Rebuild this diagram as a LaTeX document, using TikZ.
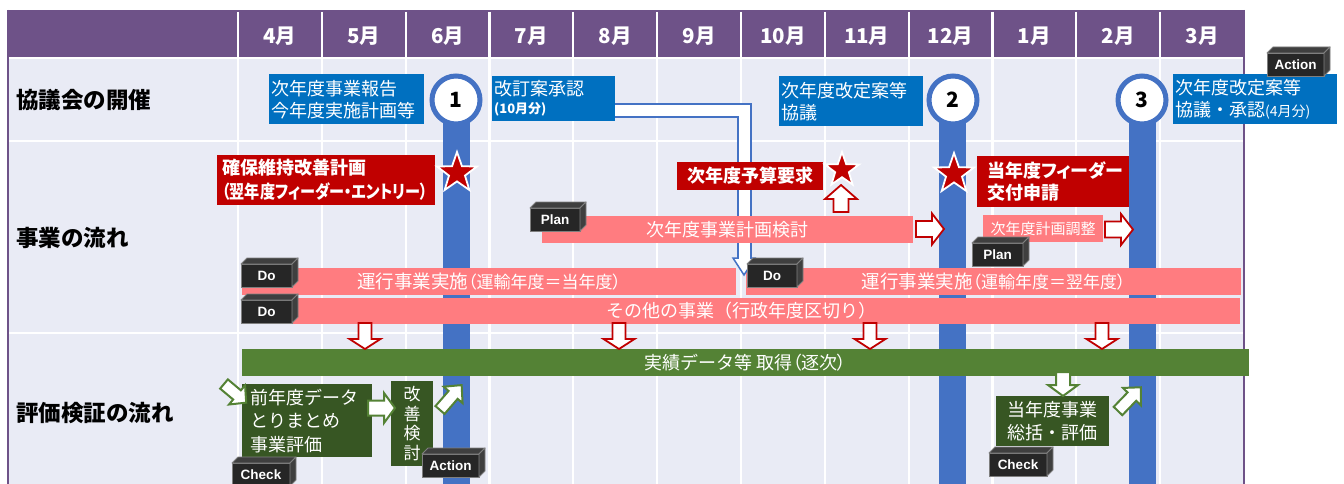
\documentclass[tikz,border=0pt]{standalone}
\usepackage{fontspec}
\setmainfont{Noto Sans CJK JP}
\newfontfamily\pk{Noto Sans CJK JP}[RawFeature=+palt]
\newfontfamily\lat{Liberation Sans}
\usetikzlibrary{shapes.geometric,calc}
\definecolor{hdr}{HTML}{6E5288}
\definecolor{gridbg}{HTML}{E9EBF5}
\definecolor{barblue}{HTML}{4472C4}
\definecolor{boxblue}{HTML}{0070C0}
\definecolor{darkred}{HTML}{C00000}
\definecolor{pinkc}{HTML}{FF7C80}
\definecolor{greenc}{HTML}{548235}
\definecolor{dgreen}{HTML}{375623}
\definecolor{cubeblk}{HTML}{262626}
\definecolor{cubesidec}{HTML}{3F3F3F}
\definecolor{cubeedge}{HTML}{7F7F7F}
\newcommand\fsz[2]{\fontsize{#1}{#2}\selectfont}
\tikzset{
 pics/barrow/.style n args={5}{code={
   \filldraw[#5] (0,{-#3/2}) -- ({#1-#4},{-#3/2}) -- ({#1-#4},{-#2/2}) -- (#1,0) -- ({#1-#4},{#2/2}) -- ({#1-#4},{#3/2}) -- (0,{#3/2}) -- cycle;
 }},
}
\newcommand\cubebox[5]{%
 \node[cubefront, minimum width=#4, anchor=north west] (#1) at (#2,#3) {#5};
 \filldraw[cubeface] (#1.north west) -- ++(6,-6) -- ([shift={(6,-6)}]#1.north east) -- (#1.north east) -- cycle;
 \filldraw[cubeface] (#1.north east) -- ++(6,-6) -- ([shift={(6,-6)}]#1.south east) -- (#1.south east) -- cycle;
}
\begin{document}
\begin{tikzpicture}[x=1pt,y=-1pt,
  gridline/.style={white, line width=2.2},
  month/.style={text=white, font=\bfseries\fsz{20.5}{22}, inner sep=0},
  rowlab/.style={anchor=west, text=black, font=\bfseries\fsz{22.5}{24}, inner sep=0},
  meet/.style={circle, fill=white, draw=barblue, line width=5, minimum size=48, inner sep=0, font=\bfseries\fsz{21}{24}},
  bluebox/.style={fill=boxblue, text=white, anchor=north west, align=left, inner ysep=0, inner xsep=2, font=\fsz{18}{22}},
  redbox/.style={fill=darkred, text=white, align=left, inner ysep=0, font=\bfseries\fsz{18}{23}},
  pinkbar/.style={fill=pinkc, text=white, inner sep=0, minimum height=27, font=\fsz{18}{20}},
  greenbar/.style={fill=greenc, text=white, inner sep=0, minimum height=27, font=\fsz{18}{20}},
  dgbox/.style={fill=dgreen, text=white, inner ysep=0, font=\fsz{18}{23.5}},
  starsh/.style={star, star points=5, star point ratio=2.5, fill=darkred, draw=white, line width=1.8, inner sep=0},
  cubefront/.style={rectangle, fill=cubeblk, draw=cubeedge, line width=0.9, minimum height=23, inner sep=0, outer sep=0, text=white, font=\lat\bfseries\fsz{13.5}{15}},
  cubeface/.style={fill=cubesidec, draw=cubeedge, line width=0.9, line join=round},
  redarr/.style={fill=white, draw=darkred, line width=1.8},
  grnarr/.style={fill=white, draw=greenc, line width=2},
  conn/.style={line join=miter},
]
\clip (0,0) rectangle (1344,484);
\fill[white] (0,0) rectangle (1344,484);
% grid
\fill[gridbg] (8,58) rectangle (1244,484);
\fill[hdr] (8,10) rectangle (1244,58);
\draw[gridline] (8,58) -- (1244,58);
\draw[gridline] (8,141) -- (1244,141);
\draw[gridline] (8,333) -- (1244,333);
\foreach \k in {0,...,11} \draw[gridline] ({238+83.83*\k},12) -- ({238+83.83*\k},484);
\draw[hdr, line width=2] (8,10) -- (8,484);
\draw[hdr, line width=2] (1244,10) -- (1244,484);
\foreach \m [count=\i from 0] in {4,5,6,7,8,9,10,11,12,1,2,3}
  \node[month] (mo\i) at ({238+83.83*(\i+0.5)},36) {\m{}月};
\node[rowlab] (row1) at (16,100) {協議会の開催};
\node[rowlab] (row2) at (16,238) {事業の流れ};
\node[rowlab] (row3) at (16,413) {評価検証の流れ};
% meeting bars
\fill[barblue] (443,110) rectangle (470,484);
\fill[barblue] (939,110) rectangle (966,484);
\fill[barblue] (1129,110) rectangle (1156,484);
\node[meet] (c1) at (456,100) {1};
\node[meet] (c2) at (953,100) {2};
\node[meet] (c3) at (1142,100) {3};
% blue boxes
\node[bluebox, text width=151, minimum height=50] (b1) at (269,74) {次年度事業報告\\今年度実施計画等};
\node[bluebox, text width=119, minimum height=45] (kaitei) at (492,76) {改訂案承認\\[-4pt]{\bfseries\fsz{13}{14}(10月分)}};
\node[bluebox, text width=140, minimum height=50] (b3) at (779,76) {次年度改定案等\\協議};
\node[bluebox, text width=160, minimum height=50] (b4) at (1173,74) {次年度改定案等\\協議・承認{\fsz{14}{15}(4月分)}};
% pink bars (lower ones)
\node[pinkbar, minimum width=494] (unko1) at (489,281.5) {{\fsz{18.5}{20}運行事業実施}{\pk\fsz{17}{20}（運輸年度＝当年度）}};
\node[pinkbar, minimum width=495] (unko2) at (993.5,281.5) {{\fsz{18.5}{20}運行事業実施}{\pk\fsz{17}{20}（運輸年度＝翌年度）}};
\node[pinkbar, minimum width=998, minimum height=26] (sonota) at (741,311) {その他の事業（行政年度区切り）};
\node[greenbar, minimum width=1007] (jisseki) at (745.5,362.5) {実績データ等 取得{\pk（逐次）}};
% connector from kaitei
\coordinate (ktip) at (744,275);
\draw[conn, barblue, line width=15] ($(kaitei.east)+(0,11.5)$) -| ($(ktip)+(0,-17)$);
\filldraw[fill=white, draw=barblue, line width=1.5, line join=miter] (733,258) -- (755,258) -- (ktip) -- cycle;
\draw[conn, white, line width=11] ($(kaitei.east)+(0,11.5)$) -| ($(ktip)+(0,-15.5)$);
% pink bars (upper ones, above the connector)
\node[pinkbar, minimum width=371] (plan1) at (727.5,229.5) {次年度事業計画検討};
\node[pinkbar, minimum width=120, font=\fsz{15}{17}] (adj) at (1043,228.5) {次年度計画調整};
% red boxes
\node[redbox, anchor=north west, minimum height=50, text width=208, inner xsep=5] (kakuho) at (217,155) {確保維持改善計画\\[1pt]\scalebox{0.84}[1]{\pk （翌年度フィーダー・エントリー）}};
\node[redbox, minimum width=146, minimum height=28, inner xsep=0] (yosan) at (750,176) {次年度予算要求};
\node[redbox, anchor=north west, minimum height=51, text width=132, inner xsep=10, font=\bfseries\fsz{18}{22}] (koufu) at (977,156) {{\pk 当年度フィーダー}\\交付申請};
% stars
\node[starsh, minimum size=42] (s1) at (457,173) {};
\node[starsh, minimum size=36] (s2) at (842,170) {};
\node[starsh, minimum size=42] (s3) at (954,174) {};
% red block arrows
\pic[rotate=90] at (841,212) {barrow={27}{32}{15}{14}{redarr}};
\pic at (916,229) {barrow={28}{31}{16}{12}{redarr}};
\pic at (1105,229.5) {barrow={28}{31}{16}{12}{redarr}};
\foreach \xx in {365,619,870,1102}
  \pic[rotate=-90] at (\xx,323) {barrow={26}{31}{13}{10}{redarr}};
% dark green boxes
\node[dgbox, anchor=north west, align=left, minimum height=73, text width=114, inner xsep=8] (zen) at (242,384) {前年度データ\\とりまとめ\\事業評価};
\node[dgbox, align=center, minimum width=42, minimum height=85, inner xsep=0, font=\fsz{17}{19.5}] (kaizen) at (412,423.5) {改\\善\\検\\討};
\node[dgbox, align=center, minimum width=113, minimum height=50, inner xsep=0, font=\fsz{18}{23}] (tounen) at (1052.5,421) {当年度事業\\総括・評価};
% green block arrows
\pic[rotate=-40] at (224,384) {barrow={29}{25}{12}{12}{grnarr}};
\pic at (368,408) {barrow={27}{30}{15}{11}{grnarr}};
\pic[rotate=49] at (440,410) {barrow={33}{25}{12}{13}{grnarr}};
\pic[rotate=-90] at (1063,372) {barrow={24}{30}{14}{11}{grnarr}};
\pic[rotate=46] at (1118,411) {barrow={33}{25}{12}{13}{grnarr}};
% cubes
\cubebox{actTop}{1267}{53}{57}{Action}
\cubebox{plan1c}{530}{208}{50}{Plan}
\cubebox{plan2c}{972}{243}{51}{Plan}
\cubebox{do1}{241}{264}{51}{Do}
\cubebox{do2}{241}{300}{51}{Do}
\cubebox{do3}{747}{264}{50}{Do}
\cubebox{chk1}{232}{463}{58}{Check}
\cubebox{act2}{422}{454}{57}{Action}
\cubebox{chk2}{989}{453}{58}{Check}
\end{tikzpicture}
\end{document}
